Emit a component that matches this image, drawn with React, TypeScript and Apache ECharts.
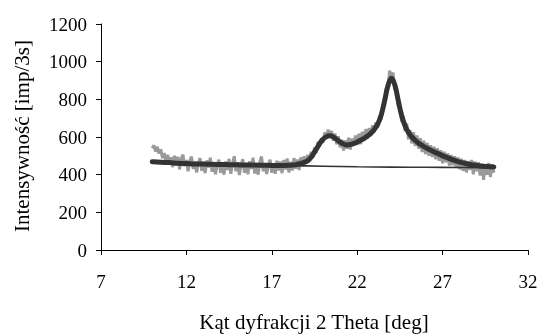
import React, { useEffect, useRef } from "react";
import * as echarts from "echarts";

const xTicks = { min: 7, max: 32, interval: 5 };
const yTicks = { min: 0, max: 1200, interval: 200 };
const xTitle = "Kąt dyfrakcji 2 Theta [deg]";
const yTitle = "Intensywność [imp/3s]";

// raw measured intensity, 2θ from 10.0 to 30.0 step 0.1
const rawStart = 10.0;
const rawStep = 0.1;
const rawY = [
  540, 556, 522, 548, 512, 535, 488, 515, 470, 505,
  462, 492, 440, 500, 452, 495, 428, 485, 506, 445,
  478, 418, 475, 496, 430, 470, 412, 462, 488, 420,
  468, 408, 476, 438, 490, 415, 465, 402, 450, 480,
  410, 462, 400, 470, 425, 484, 405, 458, 498, 418,
  466, 398, 452, 482, 410, 460, 402, 472, 430, 490,
  406, 455, 400, 468, 496, 418, 460, 404, 452, 480,
  410, 458, 405, 474, 422, 470, 408, 478, 428, 486,
  412, 468, 422, 488, 432, 480, 425, 492, 445, 498,
  458, 505, 470, 522, 490, 545, 515, 575, 548, 595,
  570, 625, 590, 640, 596, 632, 580, 618, 562, 604,
  545, 586, 528, 582, 538, 596, 534, 592, 552, 608,
  558, 618, 562, 628, 578, 642, 590, 648, 605, 662,
  626, 678, 650, 712, 692, 768, 772, 858, 862, 952,
  915, 942, 855, 852, 762, 762, 682, 708, 632, 672,
  588, 638, 566, 626, 552, 608, 538, 594, 520, 580,
  510, 568, 500, 556, 494, 548, 482, 540, 474, 530,
  460, 522, 466, 512, 448, 505, 450, 498, 436, 492,
  428, 485, 420, 478, 412, 472, 426, 478, 402, 470,
  418, 466, 395, 458, 372, 452, 400, 462, 388, 455,
  410,
];

// fitted profile
const fitX = [
  10.0, 10.5, 11.0, 11.5, 12.0, 12.5, 13.0, 13.5, 14.0, 14.5, 15.0, 15.5, 16.0, 16.5, 17.0, 17.5,
  18.0, 18.4, 18.7, 19.0, 19.2, 19.4, 19.6, 19.8, 20.0, 20.2, 20.4, 20.6, 20.8, 21.0, 21.2, 21.4,
  21.6, 21.8, 22.0, 22.2, 22.4, 22.6, 22.8, 23.0, 23.2, 23.4, 23.6, 23.8, 24.0, 24.2, 24.4, 24.6,
  24.8, 25.0, 25.2, 25.4, 25.6, 25.8, 26.0, 26.4, 26.8, 27.2, 27.6, 28.0, 28.4, 28.8, 29.2, 29.6, 30.0,
];
const fitY = [
  469, 466, 464, 461, 459, 457, 456, 455, 454, 453, 452, 451, 451, 450, 449, 449,
  450, 453, 460, 469, 482, 505, 535, 565, 588, 602, 606, 600, 587, 573, 563, 558,
  560, 566, 574, 583, 593, 605, 620, 640, 668, 715, 790, 872, 912, 878, 795, 715,
  660, 624, 600, 582, 567, 555, 544, 526, 509, 493, 479, 467, 458, 451, 446, 443, 441,
];

// background line
const baseX = [10, 12, 14, 16, 18, 20, 22, 24, 26, 28, 30];
const baseY = [469, 461, 455, 451, 448, 445, 442, 440, 439, 438, 437];

const FONT = "Liberation Serif";

export default function App() {
  const ref = useRef<HTMLDivElement>(null);
  useEffect(() => {
    if (!ref.current) return;
    const chart = echarts.init(ref.current, null, { renderer: "svg" });
    const raw = rawY.map((v, i) => [+(rawStart + i * rawStep).toFixed(1), v]);
    const fit = fitX.map((x, i) => [x, fitY[i]]);
    const base = baseX.map((x, i) => [x, baseY[i]]);
    chart.setOption({
      animation: false,
      grid: { left: 101, right: 14, top: 24, bottom: 84 },
      xAxis: {
        type: "value",
        min: xTicks.min,
        max: xTicks.max,
        interval: xTicks.interval,
        splitLine: { show: false },
        axisLine: { onZero: false, lineStyle: { color: "#000", width: 1 } },
        axisTick: { show: true, length: 5, lineStyle: { color: "#000" } },
        axisLabel: {
          color: "#000",
          fontFamily: FONT,
          fontSize: 19,
          margin: 22,
          formatter: (v: number) => String(v),
        },
      },
      yAxis: {
        type: "value",
        min: yTicks.min,
        max: yTicks.max,
        interval: yTicks.interval,
        splitLine: { show: false },
        axisLine: { show: true, lineStyle: { color: "#000", width: 1 } },
        axisTick: { show: true, length: 5, lineStyle: { color: "#000" } },
        axisLabel: {
          color: "#000",
          fontFamily: FONT,
          fontSize: 19,
          margin: 14,
          formatter: (v: number) => String(v),
        },
      },
      graphic: [
        {
          type: "text",
          x: 22,
          y: 136,
          rotation: Math.PI / 2,
          style: {
            text: yTitle,
            fontFamily: FONT,
            fontSize: 21,
            fill: "#000",
            textAlign: "center",
            textVerticalAlign: "middle",
          },
        },
        {
          type: "text",
          x: 314,
          y: 322,
          style: {
            text: xTitle,
            fontFamily: FONT,
            fontSize: 21,
            fill: "#000",
            textAlign: "center",
            textVerticalAlign: "middle",
          },
        },
      ],
      series: [
        {
          type: "line",
          data: raw,
          showSymbol: false,
          symbol: "none",
          lineStyle: { color: "#9a9a9a", width: 3 },
          z: 1,
        },
        {
          type: "line",
          data: base,
          showSymbol: false,
          symbol: "none",
          smooth: true,
          lineStyle: { color: "#333", width: 1.6 },
          z: 2,
        },
        {
          type: "line",
          data: fit,
          showSymbol: false,
          symbol: "none",
          smooth: 0.4,
          lineStyle: { color: "#333", width: 5, cap: "round" },
          z: 3,
        },
      ],
    });
    return () => chart.dispose();
  }, []);
  return (
    <div
      ref={ref}
      style={{ position: "fixed", left: 0, top: 0, width: 542, height: 334 }}
    />
  );
}
